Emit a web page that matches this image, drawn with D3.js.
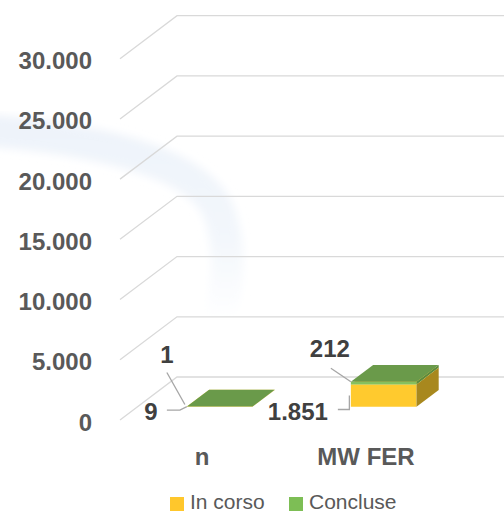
<!DOCTYPE html>
<html>
<head>
<meta charset="utf-8">
<script src="https://cdn.jsdelivr.net/npm/d3@7"></script>
<style>
  html, body { margin: 0; padding: 0; background: #fff; }
  svg { display: block; font-family: "Liberation Sans", Arial, sans-serif; }
</style>
</head>
<body>
<svg id="chart" width="504" height="513"></svg>
<script>
const categories = ["n", "MW FER"];
const seriesNames = ["In corso", "Concluse"];
const inCorso = [9, 1851];
const concluse = [1, 212];
const yTicks = [0, 5000, 10000, 15000, 20000, 25000, 30000];

const colors = {
    "In corso": { front: "#FFCA2E", side: "#A8881E", top: "#FFD75A" },
    "Concluse": { front: "#86C05E", side: "#5C8A3E", top: "#6A9A4A" }
};
const legendColors = ["#FFC72C", "#7DBE55"];

const depthX = 57, depthY = 43;   // floor depth offset
const barD0 = 0.31, barD1 = 0.70; // bar position in floor depth

const itFormat = d3.formatLocale({ decimal: ",", thousands: ".", grouping: [3], currency: ["€", ""] }).format(",d");

const svg = d3.select("#chart");

const x = d3.scaleBand()
    .domain(categories)
    .range([120, 448]);

const y = d3.scaleLinear()
    .domain([0, 30000])
    .range([420, 58.7]);

const barW = x.bandwidth() * 0.4;

function project(xv, v, d) {
    return [xv + d * depthX, y(v) - d * depthY];
}

// faint watermark swoosh
const defs = svg.append("defs");
defs.append("filter").attr("id", "blur")
    .append("feGaussianBlur").attr("stdDeviation", 4);
const wmGrad = defs.append("linearGradient")
    .attr("id", "wm")
    .attr("gradientUnits", "userSpaceOnUse")
    .attr("x1", 0).attr("y1", 120).attr("x2", 0).attr("y2", 320);
wmGrad.append("stop").attr("offset", 0).attr("stop-color", "#EEF3FA");
wmGrad.append("stop").attr("offset", 0.6).attr("stop-color", "#F3F7FC");
wmGrad.append("stop").attr("offset", 1).attr("stop-color", "#FFFFFF");

svg.append("path")
    .attr("d", "M-20,130 C90,138 195,160 218,210 C232,245 228,285 220,320")
    .attr("fill", "none")
    .attr("stroke", "url(#wm)")
    .attr("stroke-width", 32)
    .attr("filter", "url(#blur)");

// gridlines (left wall diagonal + back wall horizontal)
const grid = svg.append("g").attr("class", "grid");
yTicks.forEach(v => {
    const a = project(120, v, 0);
    const b = project(120, v, 1);
    grid.append("polyline")
        .attr("points", [a, b, [504, b[1]]].map(p => p.join(",")).join(" "))
        .attr("fill", "none")
        .attr("stroke", "#D9D9D9")
        .attr("stroke-width", 1.3);
});

// y axis labels
svg.append("g")
    .selectAll("text")
    .data(yTicks)
    .enter()
    .append("text")
    .attr("x", 92)
    .attr("y", d => y(d) + 2)
    .attr("dominant-baseline", "central")
    .attr("text-anchor", "end")
    .attr("font-size", 24)
    .attr("font-weight", "bold")
    .attr("fill", "#595959")
    .text(d => itFormat(d));

// category labels
svg.append("g")
    .selectAll("text")
    .data(categories)
    .enter()
    .append("text")
    .attr("x", d => x(d) + x.bandwidth() / 2)
    .attr("y", y(0) + 45)
    .attr("text-anchor", "middle")
    .attr("font-size", 24)
    .attr("font-weight", "bold")
    .attr("fill", "#595959")
    .text(d => d);

// stacked 3d bars
const stacked = categories.map((c, i) => {
    const vals = [inCorso[i], concluse[i]];
    let acc = 0;
    return seriesNames.map((s, j) => {
        const seg = { category: c, series: s, value: vals[j], v0: acc, v1: acc + vals[j] };
        acc += vals[j];
        return seg;
    });
});

const bars = svg.append("g").attr("class", "bars");
const pts = arr => arr.map(p => p.join(",")).join(" ");

stacked.forEach(segs => {
    segs.forEach(s => {
        const x0 = x(s.category) + (x.bandwidth() - barW) / 2;
        const x1 = x0 + barW;
        const c = colors[s.series];
        s.x0 = x0; s.x1 = x1;
        bars.append("polygon")
            .attr("points", pts([project(x0, s.v0, barD0), project(x1, s.v0, barD0), project(x1, s.v1, barD0), project(x0, s.v1, barD0)]))
            .attr("fill", c.front);
        bars.append("polygon")
            .attr("points", pts([project(x1, s.v0, barD0), project(x1, s.v0, barD1), project(x1, s.v1, barD1), project(x1, s.v1, barD0)]))
            .attr("fill", c.side);
        bars.append("polygon")
            .attr("points", pts([project(x0, s.v1, barD0), project(x1, s.v1, barD0), project(x1, s.v1, barD1), project(x0, s.v1, barD1)]))
            .attr("fill", c.top);
    });
});

// data labels with leader lines (offsets relative to the bar's front-left edge)
const labelOffsets = {
    "n|In corso": { lx: -36, ly: 5, path: [[-20, 3.5], [-7, 3.5], [0, 0]] },
    "n|Concluse": { lx: -20, ly: -52, path: [[-20, -34], [-2, -2]] },
    "MW FER|In corso": { lx: -53, ly: 16, path: [[-13, 14], [-1.5, 14], [-1.5, 0]] },
    "MW FER|Concluse": { lx: -21, ly: -33, path: [[-20, -13.5], [0, 0]] }
};

const labels = svg.append("g").attr("class", "labels");
stacked.flat().forEach(s => {
    const o = labelOffsets[s.category + "|" + s.series];
    let anchor;
    if (s.series === "In corso") anchor = project(s.x0, (s.v0 + s.v1) / 2, barD0);
    else anchor = project(s.x0, s.v1, barD0);
    if (s.category === "n") anchor = project(s.x0, s.v1, barD0);
    labels.append("polyline")
        .attr("points", pts(o.path.map(p => [anchor[0] + p[0], anchor[1] + p[1]])))
        .attr("fill", "none")
        .attr("stroke", "#A6A6A6")
        .attr("stroke-width", 1.3);
    labels.append("text")
        .attr("x", anchor[0] + o.lx)
        .attr("y", anchor[1] + o.ly)
        .attr("dominant-baseline", "central")
        .attr("text-anchor", "middle")
        .attr("font-size", 24)
        .attr("font-weight", "bold")
        .attr("fill", "#404040")
        .text(itFormat(s.value));
});

// legend
const legend = svg.append("g").attr("class", "legend");
const legendX = [170, 289];
seriesNames.forEach((s, i) => {
    legend.append("rect")
        .attr("x", legendX[i])
        .attr("y", 497)
        .attr("width", 14)
        .attr("height", 14)
        .attr("fill", legendColors[i]);
    legend.append("text")
        .attr("x", legendX[i] + 20)
        .attr("y", 509)
        .attr("font-size", 21)
        .attr("fill", "#595959")
        .text(s);
});
</script>
</body>
</html>
